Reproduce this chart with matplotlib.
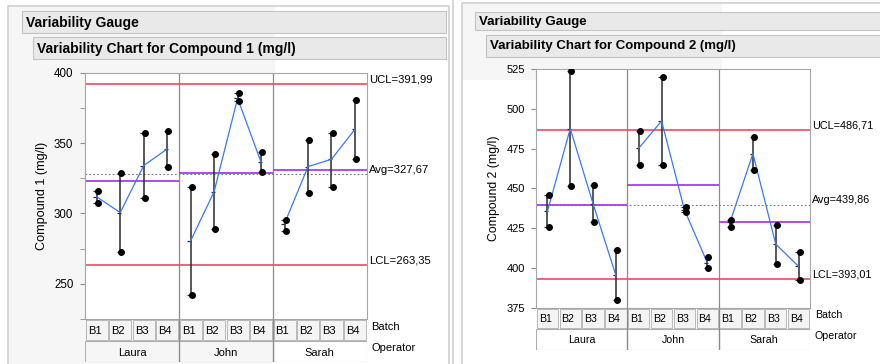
import numpy as np
import matplotlib
matplotlib.use("Agg")
import matplotlib.pyplot as plt
from matplotlib.patches import Rectangle

plt.rcParams['font.family'] = ['Liberation Sans', 'DejaVu Sans']

W, H = 880, 364

operators = ['Laura', 'John', 'Sarah']
batches = ['B1', 'B2', 'B3', 'B4']

# one entry per cell: Laura B1..B4, John B1..B4, Sarah B1..B4
c1_high = [316.0, 329.0, 357.2, 358.8, 319.1, 342.0, 385.3, 343.7, 295.0, 352.4, 357.2, 380.4]
c1_low = [307.7, 272.3, 311.3, 332.8, 242.2, 289.0, 379.9, 329.3, 287.6, 314.4, 319.1, 339.0]
c1_mean = [311.8, 300.6, 334.0, 345.8, 280.5, 315.5, 381.8, 336.4, 292.8, 333.3, 338.5, 359.8]
c1_limits = [391.99, 327.67, 263.35]  # UCL, Avg, LCL

c2_high = [446.0, 524.0, 452.1, 411.2, 486.1, 520.2, 438.7, 406.8, 430.0, 482.2, 427.2, 409.9]
c2_low = [425.8, 451.7, 428.7, 379.8, 464.6, 464.6, 435.0, 400.3, 425.8, 461.7, 402.8, 392.8]
c2_mean = [435.6, 487.6, 440.4, 395.4, 475.3, 492.4, 436.6, 403.5, 429.0, 471.9, 415.1, 401.1]
c2_limits = [486.71, 439.86, 393.01]

RED = '#ec4a63'
PURPLE = '#a83cf0'
BLUE = '#3b78f2'
GRID = '#8c8c8c'


def px_axes(fig, x0, y0, x1, y1):
    """Add axes from pixel box (top-left origin)."""
    return fig.add_axes([x0 / W, 1 - y1 / H, (x1 - x0) / W, (y1 - y0) / H])


def header(bg, x0, y0, x1, y1, text, size):
    bg.add_patch(Rectangle((x0, y0), x1 - x0, y1 - y0, fc='#e9e9e9', ec='#c4c4c4', lw=0.8))
    bg.text(x0 + 4, (y0 + y1) / 2 + 0.5, text, fontweight='bold', fontsize=size, va='center')


def draw_panel(fig, box, rows, high, low, mean, limits, ylim, yticks, minor, ylabel, ylabel_x, fs):
    x0, y0, x1, y1 = box
    ax = px_axes(fig, x0, y0, x1, y1)
    x = np.arange(len(mean))
    high, low, mean = np.array(high), np.array(low), np.array(mean)
    ax.set_xlim(-0.5, len(mean) - 0.5)
    ax.set_ylim(ylim)

    for d in (3.5, 7.5):
        ax.axvline(d, color=GRID, lw=0.9, zorder=1)

    ucl, avg, lcl = limits
    ax.axhline(ucl, color=RED, lw=1.2, zorder=2)
    ax.axhline(lcl, color=RED, lw=1.2, zorder=2)
    ax.axhline(avg, color='#777777', lw=0.8, ls=(0, (1.5, 2)), zorder=2)

    for i in range(len(operators)):
        seg = slice(i * 4, i * 4 + 4)
        ax.hlines(mean[seg].mean(), i * 4 - 0.5, i * 4 + 3.5, color=PURPLE, lw=1.3, zorder=2)

    ax.vlines(x, low, high, color='#2b2b2b', lw=1.1, zorder=3)
    for v in (low, high, mean):
        ax.hlines(v, x - 0.14, x + 0.02, color='#2b2b2b', lw=0.9, zorder=3)
    ax.plot(x + 0.05, high, 'o', ms=4, color='black', zorder=5)
    ax.plot(x + 0.05, low, 'o', ms=4, color='black', zorder=5)

    for i in range(len(operators)):
        seg = slice(i * 4, i * 4 + 4)
        ax.plot(x[seg], mean[seg], color=BLUE, lw=0.9, zorder=4)

    for s in ax.spines.values():
        s.set_color('#a6a6a6')
    ax.set_xticks([])
    ax.set_yticks(yticks)
    ax.set_yticks(minor, minor=True)
    ax.tick_params(axis='y', which='both', length=3.6, color='#8c8c8c', pad=fs - 3.5, labelsize=fs)
    ax.set_ylabel(ylabel, fontsize=fs + 0.8)
    ax.yaxis.set_label_coords((ylabel_x - x0) / (x1 - x0), 0.5)

    for name, v in zip(['UCL', 'Avg', 'LCL'], limits):
        ax.annotate(f"{name}={v:.2f}".replace('.', ','), xy=(1, v),
                    xycoords=('axes fraction', 'data'), xytext=(1.4, 3.5),
                    textcoords='offset points', va='center', fontsize=fs - 0.2)

    # table with batch / operator rows
    r0, r1, r2 = rows
    tx = px_axes(fig, x0, r0, x1, r2)
    tx.patch.set_alpha(0)
    tx.set_xlim(-0.5, len(mean) - 0.5)
    split = (r1 - r0) / (r2 - r0)
    tx.set_ylim(1, 0)
    tx.axis('off')
    for k in range(len(mean)):
        tx.add_patch(Rectangle((k - 0.47, 0.04 * split), 0.94, 0.92 * split,
                               fc='#f4f4f4', ec='#b8b8b8', lw=0.7))
        tx.text(k - 0.38, split / 2 + 0.02, batches[k % 4], fontsize=fs - 0.3, va='center')
    for i, op in enumerate(operators):
        tx.add_patch(Rectangle((i * 4 - 0.5, split), 4, 1 - split, fc='none', ec='#b0b0b0', lw=0.8))
        tx.text(i * 4 + 1.5, (1 + split) / 2 + 0.02, op, fontsize=fs - 0.3, ha='center', va='center')
    tx.vlines([3.5, 7.5], 0, 1, color=GRID, lw=0.9)
    tx.annotate('Batch', xy=(1, split / 2), xycoords=('axes fraction', 'data'),
                xytext=(3.5, 2.5), textcoords='offset points', va='center', fontsize=fs - 0.3)
    tx.annotate('Operator', xy=(1, (1 + split) / 2), xycoords=('axes fraction', 'data'),
                xytext=(3.5, 2.5), textcoords='offset points', va='center', fontsize=fs - 0.3)
    return ax


fig = plt.figure(figsize=(W / 100, H / 100), dpi=100)
bg = fig.add_axes([0, 0, 1, 1])
bg.set_xlim(0, W)
bg.set_ylim(H, 0)
bg.axis('off')

# report backgrounds and frames
bg.add_patch(Rectangle((9, 7), 266, H - 7, fc='#f6f6f6', ec='none'))
bg.add_patch(Rectangle((463, 4), 259, 76, fc='#f6f6f6', ec='none'))
bg.plot([8, 8, 449, 449], [H, 6, 6, H], color='#cfcfcf', lw=1.2)
bg.plot([453, 453], [0, H], color='#cfcfcf', lw=1.2)
bg.plot([462, 462, W], [H, 3, 3], color='#cfcfcf', lw=1.2)

header(bg, 22, 11, 446, 33, 'Variability Gauge', 10)
header(bg, 33, 37, 446, 59, 'Variability Chart for Compound 1 (mg/l)', 10)
header(bg, 475, 12, 881, 30, 'Variability Gauge', 9.5)
header(bg, 486, 35, 881, 57, 'Variability Chart for Compound 2 (mg/l)', 9.5)

draw_panel(fig, (85, 72.7, 366.7, 319), (319, 341.3, 362.3),
           c1_high, c1_low, c1_mean, c1_limits, (225, 400),
           [250, 300, 350, 400], [225, 275, 325, 375],
           'Compound 1 (mg/l)', 47.7, 8.3)
draw_panel(fig, (536, 69, 810, 308), (308, 328.7, 350),
           c2_high, c2_low, c2_mean, c2_limits, (375, 525),
           [375, 400, 425, 450, 475, 500, 525], [],
           'Compound 2 (mg/l)', 500, 8.0)

fig.savefig('out.png', dpi=100)
